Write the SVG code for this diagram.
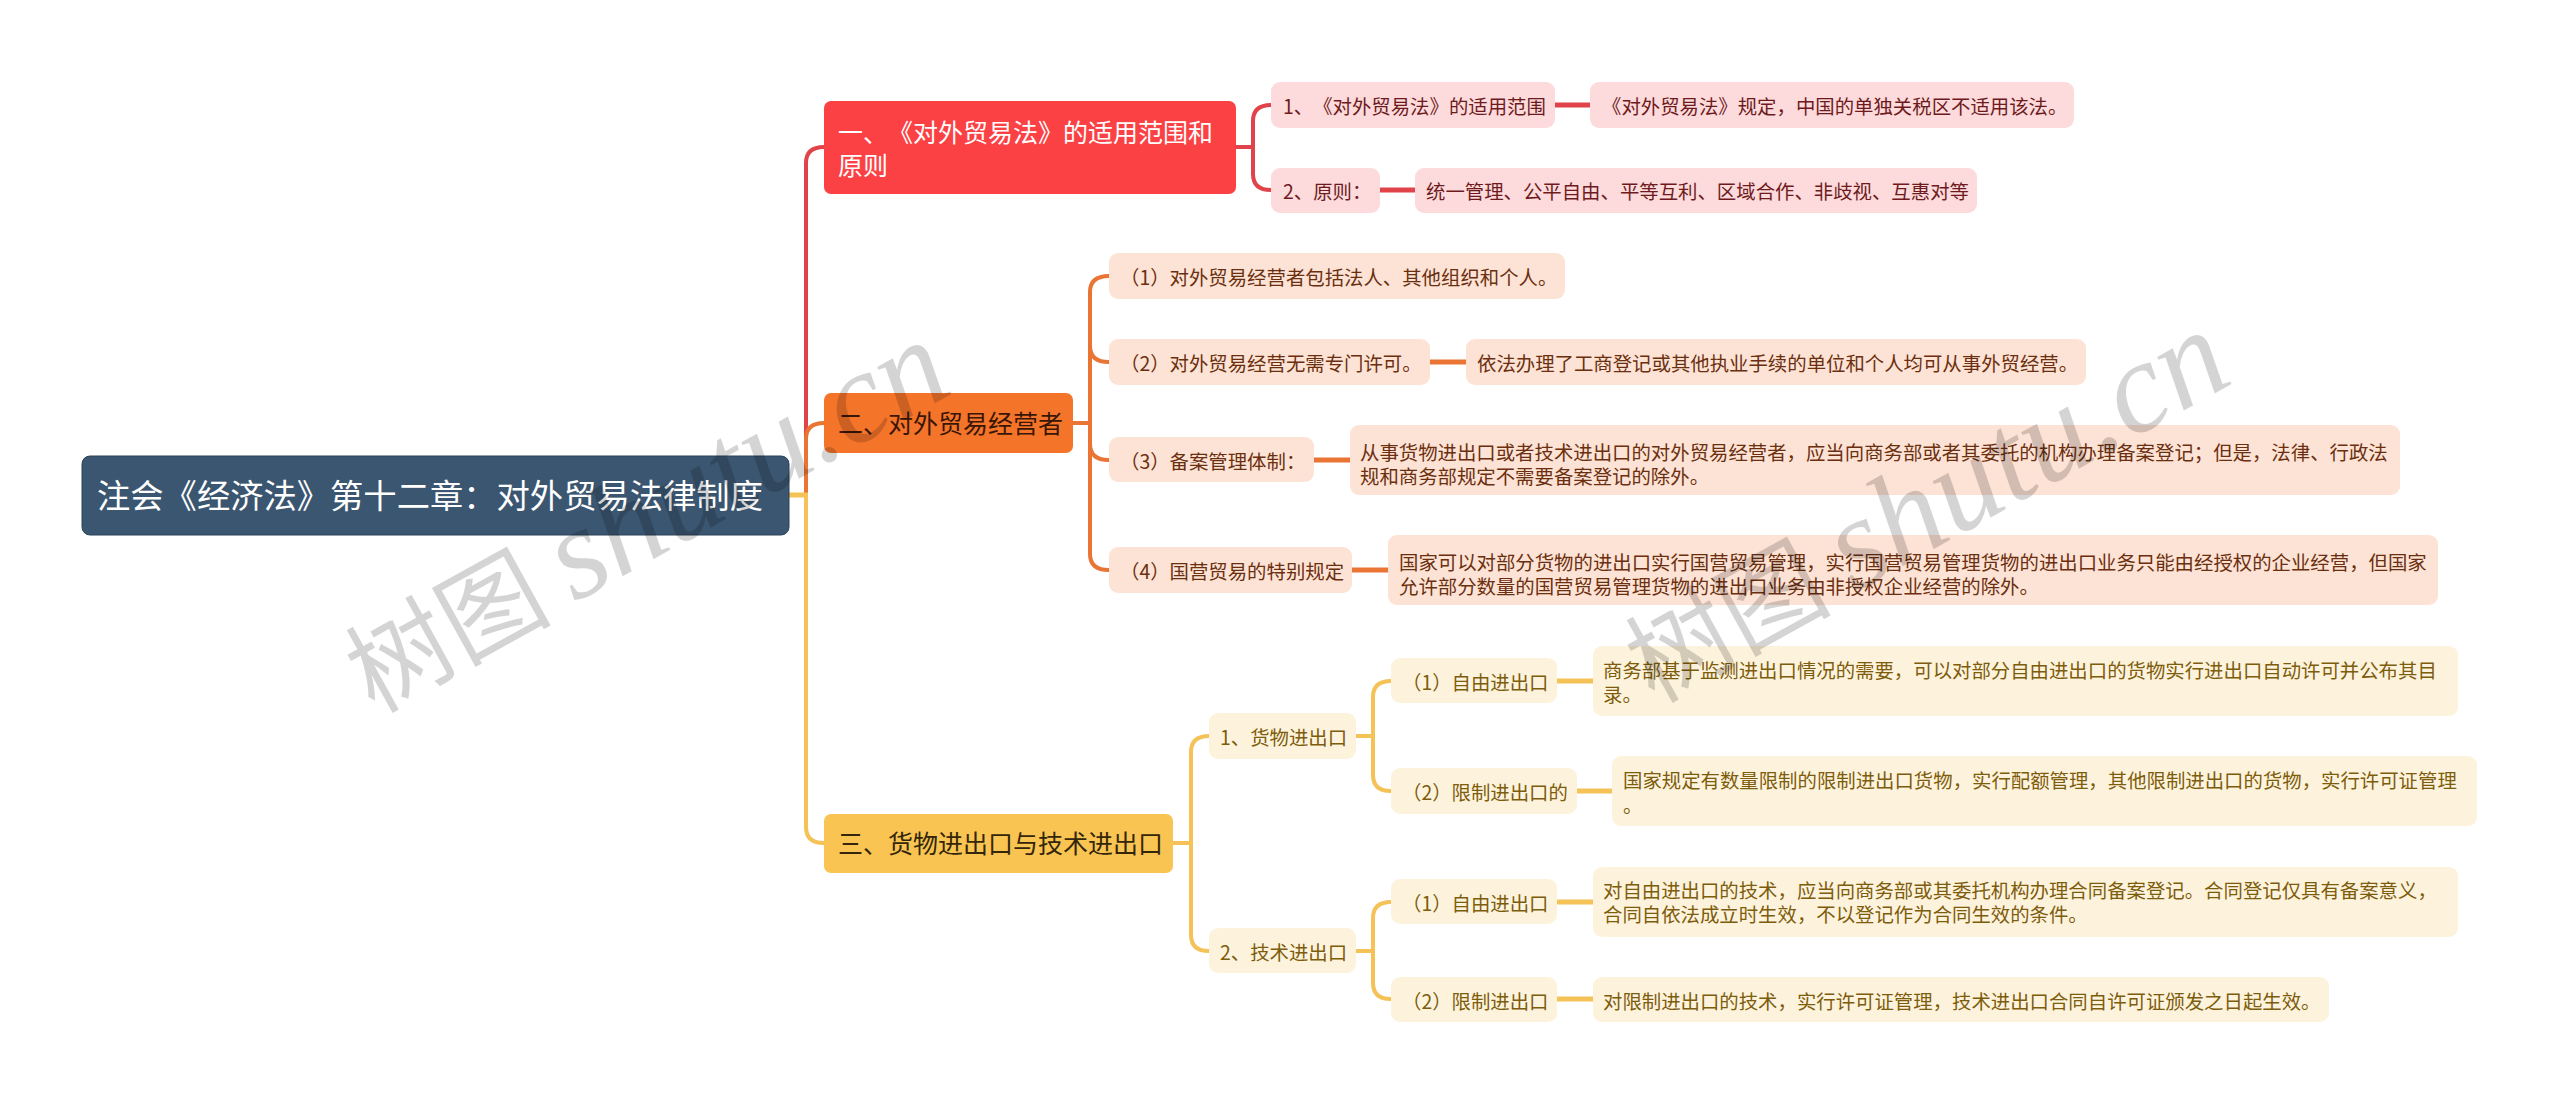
<svg xmlns="http://www.w3.org/2000/svg" width="2560" height="1105" viewBox="0 0 2560 1105">
<style>
text{font-family:"Noto Sans CJK SC","Liberation Sans",sans-serif;white-space:pre;text-spacing-trim:space-all;font-feature-settings:"palt" 0,"halt" 0,"chws" 0}
.c{fill:none;stroke-linecap:butt}
.cr{stroke:#e0444a}.co{stroke:#ea7433}.cy{stroke:#f4c257}
.w4{stroke-width:4}.w5{stroke-width:5}
.root rect{fill:#3b5670;stroke:#2c4359;stroke-width:1}
.root text{font-size:33.3px;fill:#fff}
.l1 text{font-size:25px}
.l2 text{font-size:19.4px}
.r1 rect{fill:#fc4145}.r1 text{fill:#fff}
.o1 rect{fill:#f4742a}.o1 text{fill:#3a1605}
.y1 rect{fill:#f9c452}.y1 text{fill:#33260a}
.r2 rect{fill:#fddadb}.r2 text{fill:#6e1a1d}
.o2 rect{fill:#fde3d5}.o2 text{fill:#6b2f0f}
.y2 rect{fill:#fdf3dc}.y2 text{fill:#7d5c0c}
.wm{fill:#000;fill-opacity:.17}
.wm .cjk{font-size:103px;font-weight:400}
.wm .lat{font-family:"Liberation Serif",serif;font-style:italic;font-size:130px}
</style>
<rect width="2560" height="1105" fill="#fff"/>
<g id="connectors">
<path class="c cr w4" d="M806 495V163Q806 147 824 147"/>
<path class="c co w4" d="M806 495V439Q806 423 824 423"/>
<path class="c cy w4" d="M806 495V827Q806 843 824 843"/>
<path class="c cy w5" d="M789 495H808"/>
<path class="c cr w4" d="M1236 147H1253M1271 105Q1253 105 1253 121V174Q1253 190 1271 190"/>
<path class="c cr w5" d="M1555 105H1590M1380 190H1415"/>
<path class="c co w4" d="M1073 423H1090M1109 276Q1090 276 1090 292V554Q1090 570 1109 570M1090 346Q1090 362 1109 362M1090 444Q1090 460 1109 460"/>
<path class="c co w5" d="M1430 362H1466M1314 460H1350M1352 570H1388"/>
<path class="c cy w4" d="M1173 843H1191M1209 736Q1191 736 1191 752V935Q1191 951 1209 951"/>
<path class="c cy w4" d="M1356 736H1373M1391 681Q1373 681 1373 697V775Q1373 791 1391 791M1356 951H1373M1391 902Q1373 902 1373 918V983Q1373 999 1391 999"/>
<path class="c cy w5" d="M1557 681H1593M1577 791H1612M1557 902H1593M1557 999H1593"/>
</g>
<g id="root" class="root"><rect x="82" y="456" width="707" height="79" rx="8"/><text x="97" y="507.5">注会《经济法》第十二章&#xFF1A;对外贸易法律制度</text></g>
<g id="n1" class="l1 r1"><rect x="824" y="101" width="412" height="93" rx="7"/><text x="838" y="142">一、《对外贸易法》的适用范围和</text><text x="838" y="175">原则</text></g>
<g id="n1-1" class="l2 r2"><rect x="1271" y="82" width="284" height="46" rx="9"/><text x="1283" y="114">1、《对外贸易法》的适用范围</text></g>
<g id="n1-1-1" class="l2 r2"><rect x="1590" y="82" width="484" height="46" rx="9"/><text x="1602" y="114">《对外贸易法》规定&#xFF0C;中国的单独关税区不适用该法。</text></g>
<g id="n1-2" class="l2 r2"><rect x="1271" y="168" width="109" height="45" rx="9"/><text x="1283" y="199">2、原则&#xFF1A;</text></g>
<g id="n1-2-1" class="l2 r2"><rect x="1415" y="168" width="562" height="45" rx="9"/><text x="1426" y="199">统一管理、公平自由、平等互利、区域合作、非歧视、互惠对等</text></g>
<g id="n2" class="l1 o1"><rect x="824" y="393" width="249" height="60" rx="7"/><text x="838" y="432.5">二、对外贸易经营者</text></g>
<g id="n2-1" class="l2 o2"><rect x="1109" y="253" width="456" height="46" rx="9"/><text x="1120" y="285">&#xFF08;1&#xFF09;对外贸易经营者包括法人、其他组织和个人。</text></g>
<g id="n2-2" class="l2 o2"><rect x="1109" y="339" width="321" height="46" rx="9"/><text x="1120" y="371">&#xFF08;2&#xFF09;对外贸易经营无需专门许可。</text></g>
<g id="n2-2-1" class="l2 o2"><rect x="1466" y="339" width="620" height="46" rx="9"/><text x="1477" y="371">依法办理了工商登记或其他执业手续的单位和个人均可从事外贸经营。</text></g>
<g id="n2-3" class="l2 o2"><rect x="1109" y="437" width="205" height="45" rx="9"/><text x="1120" y="469">&#xFF08;3&#xFF09;备案管理体制&#xFF1A;</text></g>
<g id="n2-3-1" class="l2 o2"><rect x="1350" y="425" width="1050" height="70" rx="9"/><text x="1360" y="459.5">从事货物进出口或者技术进出口的对外贸易经营者&#xFF0C;应当向商务部或者其委托的机构办理备案登记&#xFF1B;但是&#xFF0C;法律、行政法</text><text x="1360" y="484">规和商务部规定不需要备案登记的除外。</text></g>
<g id="n2-4" class="l2 o2"><rect x="1109" y="547" width="243" height="46" rx="9"/><text x="1120" y="579">&#xFF08;4&#xFF09;国营贸易的特别规定</text></g>
<g id="n2-4-1" class="l2 o2"><rect x="1388" y="535" width="1050" height="70" rx="9"/><text x="1399" y="570">国家可以对部分货物的进出口实行国营贸易管理&#xFF0C;实行国营贸易管理货物的进出口业务只能由经授权的企业经营&#xFF0C;但国家</text><text x="1399" y="594">允许部分数量的国营贸易管理货物的进出口业务由非授权企业经营的除外。</text></g>
<g id="n3" class="l1 y1"><rect x="824" y="814" width="349" height="59" rx="7"/><text x="838" y="852.5">三、货物进出口与技术进出口</text></g>
<g id="n3-1" class="l2 y2"><rect x="1209" y="713" width="147" height="46" rx="9"/><text x="1220" y="745">1、货物进出口</text></g>
<g id="n3-1-1" class="l2 y2"><rect x="1391" y="658" width="166" height="45" rx="9"/><text x="1402" y="690">&#xFF08;1&#xFF09;自由进出口</text></g>
<g id="n3-1-1-1" class="l2 y2"><rect x="1593" y="646" width="865" height="70" rx="9"/><text x="1603" y="677.5">商务部基于监测进出口情况的需要&#xFF0C;可以对部分自由进出口的货物实行进出口自动许可并公布其目</text><text x="1603" y="702">录。</text></g>
<g id="n3-1-2" class="l2 y2"><rect x="1391" y="768" width="186" height="46" rx="9"/><text x="1402" y="800">&#xFF08;2&#xFF09;限制进出口的</text></g>
<g id="n3-1-2-1" class="l2 y2"><rect x="1612" y="756" width="865" height="70" rx="9"/><text x="1623" y="788">国家规定有数量限制的限制进出口货物&#xFF0C;实行配额管理&#xFF0C;其他限制进出口的货物&#xFF0C;实行许可证管理</text><text x="1623" y="813">。</text></g>
<g id="n3-2" class="l2 y2"><rect x="1209" y="928" width="147" height="45" rx="9"/><text x="1220" y="960">2、技术进出口</text></g>
<g id="n3-2-1" class="l2 y2"><rect x="1391" y="879" width="166" height="45" rx="9"/><text x="1402" y="911">&#xFF08;1&#xFF09;自由进出口</text></g>
<g id="n3-2-1-1" class="l2 y2"><rect x="1593" y="867" width="865" height="70" rx="9"/><text x="1603" y="898">对自由进出口的技术&#xFF0C;应当向商务部或其委托机构办理合同备案登记。合同登记仅具有备案意义&#xFF0C;</text><text x="1603" y="922">合同自依法成立时生效&#xFF0C;不以登记作为合同生效的条件。</text></g>
<g id="n3-2-2" class="l2 y2"><rect x="1391" y="977" width="166" height="45" rx="9"/><text x="1402" y="1009">&#xFF08;2&#xFF09;限制进出口</text></g>
<g id="n3-2-2-1" class="l2 y2"><rect x="1593" y="977" width="736" height="45" rx="9"/><text x="1603" y="1009">对限制进出口的技术&#xFF0C;实行许可证管理&#xFF0C;技术进出口合同自许可证颁发之日起生效。</text></g>
<g id="watermarks" class="wm">
<text transform="translate(374 714) rotate(-29)"><tspan class="cjk">树图 </tspan><tspan class="lat">shutu.cn</tspan></text>
<text transform="translate(1654 704) rotate(-29)"><tspan class="cjk">树图 </tspan><tspan class="lat">shutu.cn</tspan></text>
</g>
</svg>
